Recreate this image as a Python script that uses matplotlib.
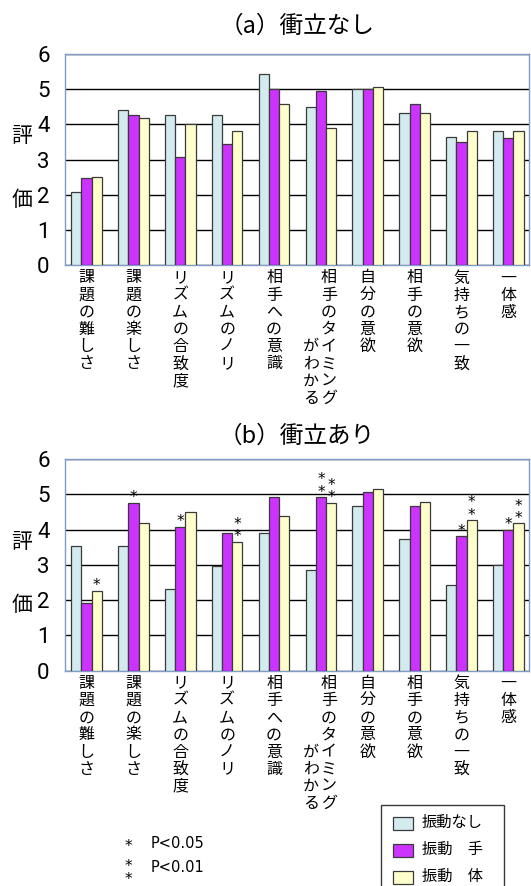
import numpy as np
import matplotlib.pyplot as plt
from matplotlib import font_manager
from matplotlib.patches import Rectangle

# categories (vertical labels; "\n" starts a second column to the left)
categories = ['課題の難しさ', '課題の楽しさ', 'リズムの合致度', 'リズムのノリ', '相手への意識',
              '相手のタイミング\nがわかる', '自分の意欲', '相手の意欲', '気持ちの一致', '一体感']
series_names = ['振動なし', '振動\u3000手', '振動\u3000体']
colors = ['#d3ebef', '#cc33ff', '#ffffcc']

# (a) 衝立なし
a_none = [2.08, 4.41, 4.26, 4.26, 5.42, 4.50, 5.00, 4.31, 3.64, 3.82]
a_hand = [2.49, 4.26, 3.08, 3.43, 5.00, 4.94, 5.00, 4.58, 3.51, 3.60]
a_body = [2.50, 4.17, 4.00, 3.82, 4.58, 3.91, 5.07, 4.31, 3.82, 3.82]

# (b) 衝立あり
b_none = [3.53, 3.53, 2.33, 2.96, 3.92, 2.87, 4.68, 3.75, 2.42, 3.00]
b_hand = [1.93, 4.77, 4.09, 3.92, 4.93, 4.93, 5.07, 4.68, 3.82, 4.00]
b_body = [2.27, 4.18, 4.50, 3.66, 4.40, 4.77, 5.16, 4.78, 4.28, 4.18]

# significance marks in (b)
b_sig_hand = ['', '*', '*', '', '', '**', '', '', '*', '*']
b_sig_body = ['*', '', '', '**', '', '**', '', '', '**', '**']

JP = ['Noto Sans CJK JP', 'DejaVu Sans']
avail = {f.name for f in font_manager.fontManager.ttflist}
NUM = next(f for f in ['Liberation Sans Narrow', 'Roboto', 'DejaVu Sans'] if f in avail)

PX = 0.72  # points per pixel at dpi 100
W = 531.0
H = 886.0
BW = 0.2175


def tate_labels(ax, labels):
    trans = ax.get_xaxis_transform()
    for i, lab in enumerate(labels):
        cols = lab.split('\n')
        n = max(len(c) for c in cols)
        dxs = [0] if len(cols) == 1 else [8, -10]
        for j, (col, dx) in enumerate(zip(cols, dxs)):
            start = 0 if j == 0 else n - len(col)
            for k, ch in enumerate(col):
                ax.annotate(ch, xy=(i, 0), xycoords=trans,
                            xytext=(dx * PX, -(12.5 + (start + k) * 17.2) * PX),
                            textcoords='offset points', ha='center', va='center',
                            fontsize=11.5, family=JP)


def stars(ax, xs, vals, marks):
    for x, v, m in zip(xs, vals, marks):
        if not m:
            continue
        off = 5 if len(m) == 1 else 11
        ax.annotate('\n'.join(m), xy=(x, v), xytext=(0, off * PX),
                    textcoords='offset points', ha='center', va='center',
                    fontsize=11, linespacing=0.8, family='DejaVu Sans')


def panel(bottom_px, title, title_y, vals):
    ax = fig.add_axes([65 / W, 1 - bottom_px / H, 464 / W, 211.5 / H])
    x = np.arange(len(categories))
    bars = []
    for s, (v, c) in enumerate(zip(vals, colors)):
        bars.append(ax.bar(x + (s - 1) * BW, v, BW, color=c, edgecolor='#3a3a3a',
                           linewidth=0.9, zorder=3))
    ax.set_xlim(-0.46, 9.44)
    ax.set_ylim(0, 6)
    ax.set_yticks(range(7))
    ax.set_yticklabels([str(t) for t in range(7)], family=NUM, fontsize=16)
    ax.set_xticks([])
    ax.tick_params(axis='y', length=0, pad=11)
    ax.yaxis.grid(True, color='black', linewidth=1, zorder=0)
    ax.set_axisbelow(True)
    for sp in ax.spines.values():
        sp.set_color('#7f9cc8')
        sp.set_linewidth(1)
    ax.text(-0.093, 0.61, '評', transform=ax.transAxes, ha='center', va='center',
            fontsize=15, family=JP)
    ax.text(-0.093, 0.31, '価', transform=ax.transAxes, ha='center', va='center',
            fontsize=15, family=JP)
    tate_labels(ax, categories)
    fig.text(297 / W, 1 - title_y / H, title, ha='center', va='center',
             fontsize=17, family=JP)
    return ax, x, bars


fig = plt.figure(figsize=(5.31, 8.86), dpi=100)

ax1, x, bars = panel(265.4, '（a）衝立なし', 26, [a_none, a_hand, a_body])
ax2, x, bars = panel(670.7, '（b）衝立あり', 436, [b_none, b_hand, b_body])
stars(ax2, x, b_hand, b_sig_hand)
stars(ax2, x + BW, b_body, b_sig_body)

# notes
fig.text(128 / W, 1 - 847 / H, '*', ha='center', va='center', fontsize=11)
fig.text(151 / W, 1 - 843 / H, 'P<0.05', ha='left', va='center', fontsize=10.5)
fig.text(128 / W, 1 - 873 / H, '*\n*', ha='center', va='center', fontsize=11,
         linespacing=0.8)
fig.text(151 / W, 1 - 868 / H, 'P<0.01', ha='left', va='center', fontsize=10.5)

# legend box (runs off the bottom edge like the original)
fig.patches.append(Rectangle((381 / W, 1 - 888 / H), 123 / W, 83 / H,
                             transform=fig.transFigure, fill=False,
                             edgecolor='#3a3a3a', linewidth=1))
for k, (name, c) in enumerate(zip(series_names, colors)):
    yc = 823 + 27 * k
    fig.patches.append(Rectangle((393 / W, 1 - (yc + 6.5) / H), 20 / W, 13 / H,
                                 transform=fig.transFigure, facecolor=c,
                                 edgecolor='#3a3a3a', linewidth=0.9))
    fig.text(422 / W, 1 - (yc - 1) / H, name, ha='left', va='center',
             fontsize=11, family=JP)

fig.savefig('out.png', dpi=100)
